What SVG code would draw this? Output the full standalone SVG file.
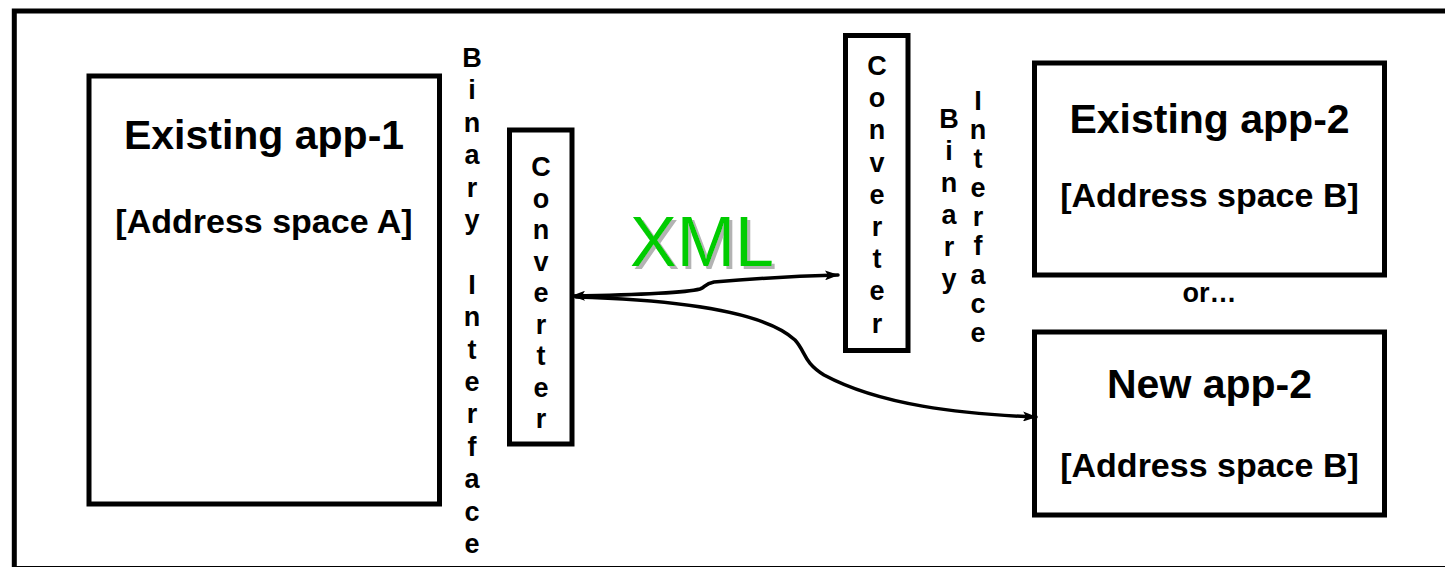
<svg xmlns="http://www.w3.org/2000/svg" width="1445" height="567" viewBox="0 0 1445 567">
  <style>
    .frame { fill: none; stroke: #000; stroke-width: 5; }
    .box { fill: #fff; stroke: #000; stroke-width: 5; }
    .title { font-family: "Liberation Sans", Arial, sans-serif; font-weight: bold; font-size: 41px; fill: #000; text-anchor: middle; }
    .sub { font-family: "Liberation Sans", Arial, sans-serif; font-weight: bold; font-size: 34px; fill: #000; text-anchor: middle; }
    .col { font-family: "Liberation Sans", Arial, sans-serif; font-weight: bold; font-size: 27px; fill: #000; text-anchor: middle; }
    .wire { fill: none; stroke: #000; stroke-width: 3.5; stroke-linecap: round; }
    .xml { font-family: "Liberation Sans", Arial, sans-serif; font-size: 70px; fill: #00cc00; filter: url(#shadow); }
  </style>
  <defs>
    <marker id="head" viewBox="0 0 14 10" refX="13" refY="5" markerWidth="14" markerHeight="10" markerUnits="userSpaceOnUse" orient="auto-start-reverse">
      <path d="M0,0 L14,5 L0,10 L3,5 z" fill="#000"/>
    </marker>
    <!-- hard grey drop shadow, offset down-right -->
    <filter id="shadow" x="-10%" y="-10%" width="130%" height="130%">
      <feFlood flood-color="#b3b3b3" result="grey"/>
      <feComposite in="grey" in2="SourceAlpha" operator="in" result="shape"/>
      <feOffset in="shape" dx="3" dy="3" result="offset"/>
      <feMerge>
        <feMergeNode in="offset"/>
        <feMergeNode in="SourceGraphic"/>
      </feMerge>
    </filter>
  </defs>

  <!-- outer frame (right and bottom edges run past the canvas) -->
  <rect class="frame" x="14.3" y="11" width="1440" height="557.5"/>

  <!-- application 1 -->
  <g id="app1">
    <rect class="box" x="89" y="76" width="350.5" height="428"/>
    <text class="title" x="264" y="149">Existing app-1</text>
    <text class="sub" x="264" y="233">[Address space A]</text>
  </g>

  <!-- binary interface beside app 1 -->
  <g id="binary-interface-1">
    <text class="col">
      <tspan x="472" y="67">B</tspan><tspan x="472" dy="32.4">i</tspan><tspan x="472" dy="32.4">n</tspan><tspan x="472" dy="32.4">a</tspan><tspan x="472" dy="32.4">r</tspan><tspan x="472" dy="32.4">y</tspan><tspan x="472" dy="64.8">I</tspan><tspan x="472" dy="32.4">n</tspan><tspan x="472" dy="32.4">t</tspan><tspan x="472" dy="32.4">e</tspan><tspan x="472" dy="32.4">r</tspan><tspan x="472" dy="32.4">f</tspan><tspan x="472" dy="32.4">a</tspan><tspan x="472" dy="32.4">c</tspan><tspan x="472" dy="32.4">e</tspan>
    </text>
  </g>

  <!-- converter on the app 1 side -->
  <g id="converter-1">
    <rect class="box" x="509.5" y="130" width="62.5" height="314"/>
    <text class="col">
      <tspan x="541" y="176">C</tspan><tspan x="541" dy="31.5">o</tspan><tspan x="541" dy="31.5">n</tspan><tspan x="541" dy="31.5">v</tspan><tspan x="541" dy="31.5">e</tspan><tspan x="541" dy="31.5">r</tspan><tspan x="541" dy="31.5">t</tspan><tspan x="541" dy="31.5">e</tspan><tspan x="541" dy="31.5">r</tspan>
    </text>
  </g>

  <!-- converter on the app 2 side -->
  <g id="converter-2">
    <rect class="box" x="845.5" y="35.5" width="62.5" height="315"/>
    <text class="col">
      <tspan x="877" y="75">C</tspan><tspan x="877" dy="32.2">o</tspan><tspan x="877" dy="32.2">n</tspan><tspan x="877" dy="32.2">v</tspan><tspan x="877" dy="32.2">e</tspan><tspan x="877" dy="32.2">r</tspan><tspan x="877" dy="32.2">t</tspan><tspan x="877" dy="32.2">e</tspan><tspan x="877" dy="32.2">r</tspan>
    </text>
  </g>

  <!-- binary interface beside app 2 -->
  <g id="binary-interface-2">
    <text class="col">
      <tspan x="949" y="128">B</tspan><tspan x="949" dy="32">i</tspan><tspan x="949" dy="32">n</tspan><tspan x="949" dy="32">a</tspan><tspan x="949" dy="32">r</tspan><tspan x="949" dy="32">y</tspan>
    </text>
    <text class="col">
      <tspan x="978" y="110">I</tspan><tspan x="978" dy="29">n</tspan><tspan x="978" dy="29">t</tspan><tspan x="978" dy="29">e</tspan><tspan x="978" dy="29">r</tspan><tspan x="978" dy="29">f</tspan><tspan x="978" dy="29">a</tspan><tspan x="978" dy="29">c</tspan><tspan x="978" dy="29">e</tspan>
    </text>
  </g>

  <!-- existing application 2 -->
  <g id="app2-existing">
    <rect class="box" x="1034.5" y="63" width="350" height="212"/>
    <text class="title" x="1209.5" y="133">Existing app-2</text>
    <text class="sub" x="1209.5" y="207">[Address space B]</text>
  </g>

  <g id="or-label">
    <text class="col" x="1209.5" y="302">or…</text>
  </g>

  <!-- new application 2 -->
  <g id="app2-new">
    <rect class="box" x="1034.5" y="332" width="350" height="183"/>
    <text class="title" x="1209.5" y="398">New app-2</text>
    <text class="sub" x="1209.5" y="477">[Address space B]</text>
  </g>

  <!-- XML label with drop shadow -->
  <g id="xml-label">
    <text class="xml" x="630" y="266">XML</text>
  </g>

  <!-- connectors -->
  <g id="connectors">
    <path class="wire" d="M572,296 C630,295 685,293 700,289 C706,287 704,284 714,282 C760,278 800,276 838,275" marker-start="url(#head)" marker-end="url(#head)"/>
    <path class="wire" d="M576,297 C680,300 765,312 795,340 C806,352 803,362 824,375 C880,405 960,414 1036,417" marker-end="url(#head)"/>
  </g>
</svg>
